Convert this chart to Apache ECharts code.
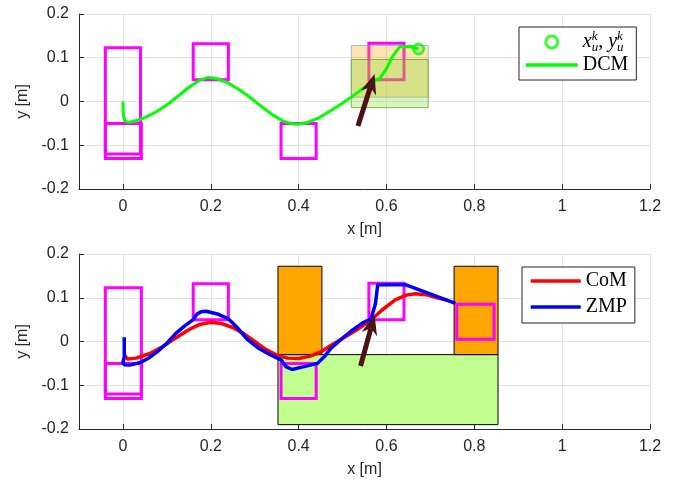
<!DOCTYPE html>
<html><head><meta charset="utf-8">
<script src="https://cdn.jsdelivr.net/npm/echarts@6/dist/echarts.min.js"></script>
<style>html,body{margin:0;padding:0;background:#fff}#c{width:678px;height:487px}</style>
</head><body><div id="c"></div>
<script>
// ---- data ----
const xTicks = [0, 0.2, 0.4, 0.6, 0.8, 1, 1.2];
const yTicks = [-0.2, -0.1, 0, 0.1, 0.2];
const dcm = [[0,0],[0.001,-0.03],[0.004,-0.044],[0.012,-0.048],[0.03,-0.044],[0.05,-0.037],[0.075,-0.024],[0.1,-0.008],[0.125,0.012],[0.15,0.032],[0.175,0.049],[0.195,0.055],[0.215,0.052],[0.24,0.042],[0.265,0.027],[0.29,0.009],[0.315,-0.011],[0.34,-0.03],[0.365,-0.045],[0.385,-0.051],[0.4,-0.052],[0.42,-0.048],[0.445,-0.038],[0.47,-0.023],[0.5,-0.004],[0.525,0.014],[0.55,0.032],[0.57,0.046],[0.585,0.053],[0.6,0.075],[0.615,0.105],[0.63,0.125],[0.655,0.125],[0.673,0.12]];
const dcmEnd = [[0.673, 0.12]];
const com = [[0.003,-0.03],[0.01,-0.04],[0.03,-0.038],[0.06,-0.028],[0.09,-0.012],[0.12,0.008],[0.15,0.027],[0.175,0.039],[0.2,0.044],[0.225,0.041],[0.25,0.032],[0.275,0.018],[0.3,0.0],[0.325,-0.018],[0.35,-0.031],[0.375,-0.038],[0.4,-0.039],[0.425,-0.034],[0.45,-0.024],[0.475,-0.008],[0.5,0.007],[0.53,0.025],[0.565,0.049],[0.59,0.072],[0.62,0.095],[0.645,0.106],[0.665,0.109],[0.69,0.107],[0.715,0.1],[0.74,0.094]];
const zmp = [[0.003,0.01],[0.003,-0.035],[0.0,-0.048],[0.003,-0.053],[0.015,-0.054],[0.04,-0.048],[0.06,-0.037],[0.08,-0.022],[0.1,-0.004],[0.12,0.018],[0.14,0.035],[0.16,0.05],[0.168,0.062],[0.178,0.068],[0.19,0.069],[0.215,0.063],[0.24,0.052],[0.26,0.032],[0.283,0.005],[0.31,-0.016],[0.335,-0.03],[0.36,-0.042],[0.372,-0.058],[0.385,-0.064],[0.41,-0.058],[0.443,-0.05],[0.46,-0.033],[0.474,-0.015],[0.5,0.008],[0.52,0.024],[0.545,0.042],[0.565,0.052],[0.575,0.087],[0.58,0.13],[0.643,0.13],[0.757,0.087]];
// rectangles as [x0, x1, y0, y1]
const stepsTop = [[-0.04,0.04,-0.12,0.123],[-0.04,0.042,-0.13,-0.05],[0.16,0.24,0.05,0.132],[0.36,0.44,-0.13,-0.05],[0.56,0.64,0.05,0.133]];
const stepsBottom = [[-0.04,0.042,-0.12,0.123],[-0.04,0.042,-0.13,-0.05],[0.16,0.24,0.05,0.132],[0.36,0.44,-0.13,-0.05],[0.56,0.64,0.05,0.133],[0.76,0.845,0.005,0.085]];
const regionOrangeTop = [[0.52,0.695,0.01,0.128]];
const regionGreenTop = [[0.52,0.695,-0.014,0.096]];
const obstacles = [[0.353,0.453,-0.03,0.172],[0.754,0.854,-0.03,0.172]];
const floorRegion = [[0.353,0.854,-0.19,-0.03]];
const arrowTop = [[0.535,-0.056,0.573,0.063]];
const arrowBottom = [[0.541,-0.056,0.573,0.061]];

// ---- chart ----
const chart = echarts.init(document.getElementById('c'), null, {renderer:'canvas'});
const AX = '#262626';
function rectSeries(xi, data, style, z) {
  return {
    type:'custom', xAxisIndex:xi, yAxisIndex:xi, z:z, silent:true,
    data:data, encode:{x:[0,1], y:[2,3]},
    renderItem:function(params, api){
      const a = api.coord([api.value(0), api.value(3)]);
      const b = api.coord([api.value(1), api.value(2)]);
      return {type:'rect', shape:{x:a[0], y:a[1], width:b[0]-a[0], height:b[1]-a[1]}, style:Object.assign({}, style)};
    }
  };
}
function arrowSeries(xi, data) {
  const c = '#4a1212';
  return {
    type:'custom', xAxisIndex:xi, yAxisIndex:xi, z:10, silent:true,
    data:data, encode:{x:[0,2], y:[1,3]},
    renderItem:function(params, api){
      const p0 = api.coord([api.value(0), api.value(1)]);
      const p1 = api.coord([api.value(2), api.value(3)]);
      const dx=p1[0]-p0[0], dy=p1[1]-p0[1], L=Math.hypot(dx,dy), ux=dx/L, uy=dy/L, nx=-uy, ny=ux;
      const hl=20, hw=8, notch=6;
      const base=[p1[0]-ux*hl, p1[1]-uy*hl];
      const mid=[p1[0]-ux*(hl-notch), p1[1]-uy*(hl-notch)];
      return {type:'group', children:[
        {type:'line', shape:{x1:p0[0],y1:p0[1],x2:mid[0],y2:mid[1]}, style:{stroke:c, lineWidth:5}},
        {type:'polygon', shape:{points:[p1,[base[0]+nx*hw,base[1]+ny*hw],mid,[base[0]-nx*hw,base[1]-ny*hw]]}, style:{fill:c}}
      ]};
    }
  };
}
function xAx(gi) {
  return {
    type:'value', gridIndex:gi, min:-0.1, max:1.2, splitNumber:6,
    name:'x [m]', nameLocation:'middle', nameGap:33,
    nameTextStyle:{fontFamily:'Liberation Sans, Arial', fontSize:16, color:AX},
    axisLine:{show:true, onZero:false, lineStyle:{color:AX, width:1}},
    axisTick:{show:true, inside:true, length:5, lineStyle:{color:AX}, customValues:xTicks},
    axisLabel:{fontFamily:'Liberation Sans, Arial', fontSize:16, color:AX, margin:10, customValues:xTicks},
    splitLine:{show:true, lineStyle:{color:'#e3e3e3', width:1}}
  };
}
function yAx(gi) {
  return {
    type:'value', gridIndex:gi, min:-0.2, max:0.2, interval:0.1,
    name:'y [m]', nameLocation:'middle', nameGap:43, nameRotate:90,
    nameTextStyle:{fontFamily:'Liberation Sans, Arial', fontSize:16, color:AX},
    axisLine:{show:true, onZero:false, lineStyle:{color:AX, width:1}},
    axisTick:{show:true, inside:true, length:5, lineStyle:{color:AX}},
    axisLabel:{fontFamily:'Liberation Sans, Arial', fontSize:16, color:AX, margin:10, customValues:yTicks},
    splitLine:{show:true, lineStyle:{color:'#e3e3e3', width:1}}
  };
}
const serif = 'Liberation Serif, Times New Roman, serif';
const noSym = {opacity:0};
const legendBase = {
  orient:'vertical', itemWidth:52, itemHeight:12, borderColor:AX, borderWidth:1, borderRadius:0,
  backgroundColor:'#fff', selectedMode:false, align:'left',
  textStyle:{fontFamily:serif, fontSize:20, color:'#000', lineHeight:22}
};
const option = {
  animation:false,
  backgroundColor:'#fff',
  grid:[
    {left:79, top:14, width:571, height:175, containLabel:false},
    {left:79, top:254, width:571, height:175, containLabel:false}
  ],
  xAxis:[xAx(0), xAx(1)],
  yAxis:[yAx(0), yAx(1)],
  legend:[
    Object.assign({}, legendBase, {
      left:519, top:27, padding:[3,8,5,5], itemGap:1,
      data:[{name:'xu', itemStyle:{color:'#fff', borderColor:'#00ff00', borderWidth:3}},
            {name:'DCM', itemStyle:noSym, lineStyle:{width:3.5}}],
      formatter:function(n){ return n==='xu' ? '{i|x}{p|k}{b|u}{c|, }{i|y}{p|k}{b|u}' : '{t|DCM}'; },
      textStyle:{fontFamily:serif, fontSize:20, color:'#000', rich:{
        i:{fontFamily:serif, fontStyle:'italic', fontSize:20, lineHeight:24, color:'#000'},
        c:{fontFamily:serif, fontSize:20, lineHeight:24, color:'#000'},
        p:{fontFamily:serif, fontStyle:'italic', fontSize:13, lineHeight:13, verticalAlign:'top', width:0.01, align:'left', color:'#000'},
        b:{fontFamily:serif, fontStyle:'italic', fontSize:13, lineHeight:13, verticalAlign:'bottom', color:'#000'},
        t:{fontFamily:serif, fontSize:20, lineHeight:22, color:'#000'}
      }}
    }),
    Object.assign({}, legendBase, {
      left:522, top:267, padding:[3,8,5,7], itemGap:4, itemWidth:50,
      data:[{name:'CoM', itemStyle:noSym, lineStyle:{width:3.5}}, {name:'ZMP', itemStyle:noSym, lineStyle:{width:3.5}}]
    })
  ],
  series:[
    // top plot
    rectSeries(0, stepsTop, {fill:'none', stroke:'#ff00ff', lineWidth:3}, 2),
    rectSeries(0, regionOrangeTop, {fill:'rgba(255,165,0,0.3)', stroke:'rgba(110,150,210,0.6)', lineWidth:1}, 3),
    rectSeries(0, regionGreenTop, {fill:'rgba(130,220,40,0.3)', stroke:'rgba(90,170,40,0.8)', lineWidth:1}, 3),
    {type:'line', name:'DCM', xAxisIndex:0, yAxisIndex:0, z:5, data:dcm, symbol:'none', showSymbol:false,
     lineStyle:{color:'#00ff00', width:3}, itemStyle:{color:'#00ff00'}},
    {type:'scatter', name:'xu', xAxisIndex:0, yAxisIndex:0, z:6, data:dcmEnd, symbol:'circle', symbolSize:10,
     itemStyle:{color:'rgba(255,255,255,0)', borderColor:'#00ff00', borderWidth:3}},
    arrowSeries(0, arrowTop),
    // bottom plot
    rectSeries(1, floorRegion, {fill:'#c2ff90', stroke:'#000', lineWidth:1}, 2),
    rectSeries(1, obstacles, {fill:'#ffa500', stroke:'#000', lineWidth:1}, 2),
    rectSeries(1, stepsBottom, {fill:'none', stroke:'#ff00ff', lineWidth:3}, 3),
    {type:'line', name:'CoM', xAxisIndex:1, yAxisIndex:1, z:5, data:com, symbol:'none', showSymbol:false,
     lineStyle:{color:'#ff0000', width:3.5}, itemStyle:{color:'#ff0000'}},
    {type:'line', name:'ZMP', xAxisIndex:1, yAxisIndex:1, z:6, data:zmp, symbol:'none', showSymbol:false,
     lineStyle:{color:'#0000ff', width:3.5}, itemStyle:{color:'#0000ff'}},
    arrowSeries(1, arrowBottom)
  ]
};
chart.setOption(option);
</script>
</body></html>
